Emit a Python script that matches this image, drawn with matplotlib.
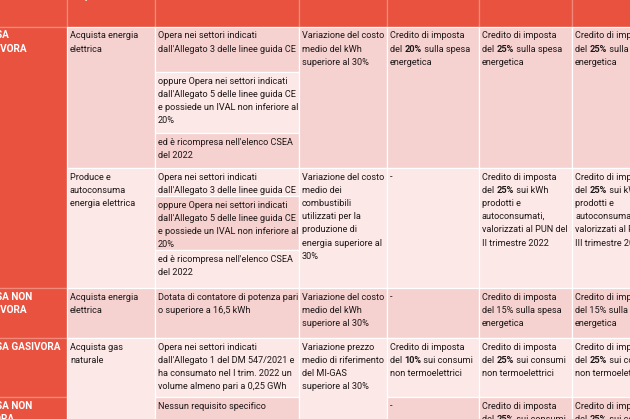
import matplotlib.pyplot as plt
from matplotlib.patches import Rectangle

plt.rcParams['font.family'] = ['Roboto', 'DejaVu Sans']

# table content (the picture is a crop of a bigger table); **x** marks bold text
headers = ['', 'ACQUISTO', '', 'INCREMENTO', 'I TRIMESTRE 2022', 'II TRIMESTRE 2022', 'III TRIMESTRE 2022']

categories = ['IMPRESA\nENERGIVORA', 'IMPRESA NON\nENERGIVORA', 'IMPRESA GASIVORA', 'IMPRESA NON\nGASIVORA']

activities = ['Acquista energia\nelettrica', 'Produce e\nautoconsuma\nenergia elettrica',
              'Acquista energia\nelettrica', 'Acquista gas\nnaturale']

req_energivora = ['Opera nei settori indicati\ndall\'Allegato 3 delle linee guida CE',
                  'oppure Opera nei settori indicati\ndall\'Allegato 5 delle linee guida CE\ne possiede un IVAL non inferiore al\n20%',
                  'ed è ricompresa nell\'elenco CSEA\ndel 2022']
req_other = ['Dotata di contatore di potenza pari\no superiore a 16,5 kWh',
             'Opera nei settori indicati\ndall\'Allegato 1 del DM 547/2021 e\nha consumato nel I trim. 2022 un\nvolume almeno pari a 0,25 GWh',
             'Nessun requisito specifico']

thresholds = ['Variazione del costo\nmedio del kWh\nsuperiore al 30%',
              'Variazione del costo\nmedio dei\ncombustibili\nutilizzati per la\nproduzione di\nenergia superiore al\n30%',
              'Variazione del costo\nmedio del kWh\nsuperiore al 30%',
              'Variazione prezzo\nmedio di riferimento\ndel MI-GAS\nsuperiore al 30%']

credit_q1 = ['Credito di imposta\ndel **20%** sulla spesa\nenergetica', '-', '-',
             'Credito di imposta\ndel **10%** sui consumi\nnon termoelettrici', '-']
credit_q2 = ['Credito di imposta\ndel **25%** sulla spesa\nenergetica',
             'Credito di imposta\ndel **25%** sui kWh\nprodotti e\nautoconsumati,\nvalorizzati al PUN del\nII trimestre 2022',
             'Credito di imposta\ndel 15% sulla spesa\nenergetica',
             'Credito di imposta\ndel **25%** sui consumi\nnon termoelettrici',
             'Credito di imposta\ndel **25%** sui consumi\nnon termoelettrici']
credit_q3 = ['Credito di imposta\ndel **25%** sulla spesa\nenergetica',
             'Credito di imposta\ndel **25%** sui kWh\nprodotti e\nautoconsumati,\nvalorizzati al PUN del\nIII trimestre 2022',
             'Credito di imposta\ndel 15% sulla spesa\nenergetica',
             'Credito di imposta\ndel **25%** sui consumi\nnon termoelettrici',
             'Credito di imposta\ndel **25%** sui consumi\nnon termoelettrici']

# layout in pixels
cx = [-60, 67, 155, 299, 387, 479, 572, 680]
ry = [-40, 27, 168, 288, 338, 397, 470]
sub1 = [27, 72, 133, 168]
sub2 = [168, 196, 250, 288]

RED = '#e8523f'
PINK = '#f5d1d0'
LIGHT = '#fbe8e7'
INK = '#1e1818'
FS = 6.6
PITCH = 13.2

fig = plt.figure(figsize=(6.3, 4.19), dpi=100)
ax = fig.add_axes([0, 0, 1, 1])
ax.set_xlim(0, 630)
ax.set_ylim(419, 0)
ax.axis('off')


def cell(x0, x1, y0, y1, color, edge='white'):
    ax.add_patch(Rectangle((x0, y0), x1 - x0, y1 - y0, facecolor=color,
                           edgecolor=edge, lw=0.9))


def txt(x, y, s):
    # one line at a time, bold pieces chained after the previous piece
    for i, line in enumerate(s.split('\n')):
        yb = y + 13.5 + i * PITCH
        parts = line.split('**')
        prev = None
        for k, p in enumerate(parts):
            if not p:
                continue
            w = 'bold' if k % 2 else 'normal'
            if prev is None:
                prev = ax.text(x + 3, yb, p, va='bottom', ha='left', color=INK,
                               fontsize=FS, fontweight=w, clip_on=True)
            else:
                prev = ax.annotate(p, xy=(1, 0), xycoords=prev, va='bottom', ha='left',
                                   color=INK, fontsize=FS, fontweight=w,
                                   annotation_clip=False, clip_on=True)


# header
for i in range(7):
    cell(cx[i], cx[i + 1], ry[0], ry[1], RED, edge='#f08a7c')
    if headers[i]:
        ax.text(cx[i] + 3, 1.8, headers[i], va='bottom', ha='left', color='white',
                fontsize=FS, fontweight='bold', clip_on=True)

# category column
cat_rows = [(ry[1], ry[3]), (ry[3], ry[4]), (ry[4], ry[5]), (ry[5], ry[6])]
for (y0, y1), name in zip(cat_rows, categories):
    cell(cx[0], cx[1], y0, y1, RED, edge='#f08a7c')
    ax.text(-34, y0 + 3.5, name, va='top', ha='left', color='white', fontsize=7.2,
            fontweight='bold', linespacing=1.4, clip_on=True)

# activity column
act_rows = [(ry[1], ry[2], PINK), (ry[2], ry[3], LIGHT), (ry[3], ry[4], PINK), (ry[4], ry[6], LIGHT)]
for (y0, y1, c), s in zip(act_rows, activities):
    cell(cx[1], cx[2], y0, y1, c)
    txt(cx[1], y0, s)

# requirements column
for k, s in enumerate(req_energivora):
    cell(cx[2], cx[3], sub1[k], sub1[k + 1], [PINK, LIGHT, PINK][k])
    txt(cx[2], sub1[k], s)
    cell(cx[2], cx[3], sub2[k], sub2[k + 1], [LIGHT, PINK, LIGHT][k])
    txt(cx[2], sub2[k], s)
for k, s in enumerate(req_other):
    y0, y1 = ry[3 + k], ry[4 + k]
    cell(cx[2], cx[3], y0, y1, [PINK, LIGHT, PINK][k])
    txt(cx[2], y0, s)

# threshold column
thr_rows = [(ry[1], ry[2], PINK), (ry[2], ry[3], LIGHT), (ry[3], ry[4], PINK), (ry[4], ry[6], LIGHT)]
for (y0, y1, c), s in zip(thr_rows, thresholds):
    cell(cx[3], cx[4], y0, y1, c)
    txt(cx[3], y0, s)

# credit columns
row_colors = [PINK, LIGHT, PINK, LIGHT, PINK]
for j, credits in enumerate([credit_q1, credit_q2, credit_q3]):
    for r, s in enumerate(credits):
        y0, y1 = ry[1 + r], ry[2 + r]
        cell(cx[4 + j], cx[5 + j], y0, y1, row_colors[r])
        txt(cx[4 + j], y0, s)

fig.savefig('out.png', dpi=100)
